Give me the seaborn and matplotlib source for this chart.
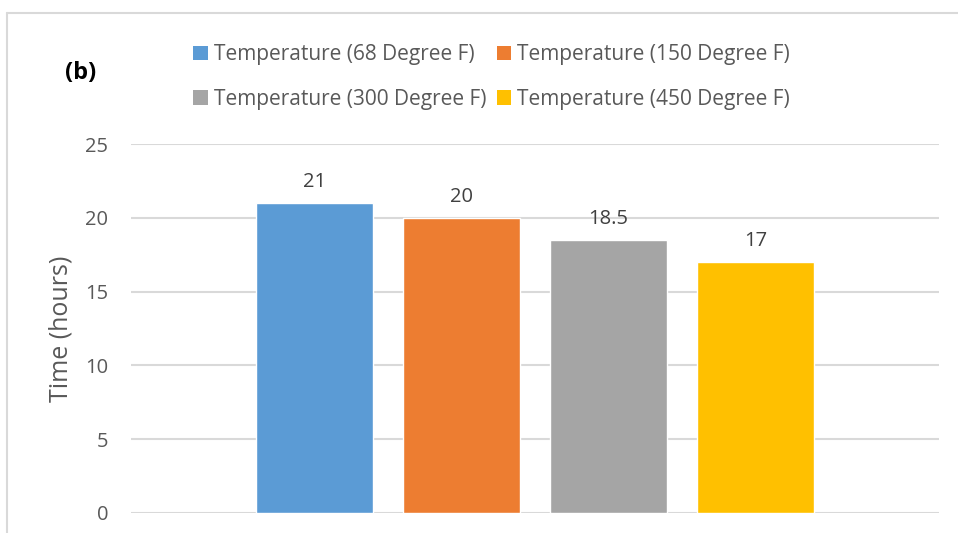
import matplotlib
matplotlib.use("Agg")
import matplotlib.pyplot as plt
from matplotlib.lines import Line2D
from matplotlib.patches import Patch
import seaborn as sns
import pandas as pd

series = ["Temperature (68 Degree F)", "Temperature (150 Degree F)",
          "Temperature (300 Degree F)", "Temperature (450 Degree F)"]
hours = [21, 20, 18.5, 17]
colors = ["#5B9BD5", "#ED7D31", "#A5A5A5", "#FFC000"]
yticks = [0, 5, 10, 15, 20, 25]

df = pd.DataFrame({"group": [""] * len(series), "series": series, "hours": hours})

sns.set_style("white")
plt.rcParams["font.family"] = ["Open Sans", "DejaVu Sans"]

fig = plt.figure(figsize=(9.58, 5.33), dpi=100)
ax = fig.add_axes([131 / 958, 20 / 533, 808 / 958, 369 / 533])

sns.barplot(data=df, x="group", y="hours", hue="series", hue_order=series,
            palette=colors, width=0.728, gap=0.21, saturation=1,
            legend=False, ax=ax)

ax.set_xlim(-0.5, 0.5)
ax.set_ylim(0, 25)
ax.set_yticks(yticks)
ax.set_yticklabels([str(t) for t in yticks])
ax.yaxis.grid(True, color="#d9d9d9", linewidth=1.5)
ax.set_axisbelow(True)
for s in ax.spines.values():
    s.set_visible(False)
ax.tick_params(axis="y", length=0, pad=16.5, labelsize=14.5, labelcolor="#595959")
ax.tick_params(axis="x", length=0, labelbottom=False)
ax.set_xlabel("")
ax.set_ylabel("Time (hours)", fontsize=18, color="#595959")
ax.yaxis.set_label_coords(-57 / 808, 0.5)

for cont in ax.containers:
    labels = [f"{v:g}" for v in cont.datavalues]
    ax.bar_label(cont, labels=labels, padding=8, fontsize=14.5, color="#404040")

# chart frame
fig.add_artist(Line2D([7 / 958, 7 / 958], [0, 1 - 13 / 533],
                      transform=fig.transFigure, color="#d9d9d9", linewidth=1.5))
fig.add_artist(Line2D([7 / 958, 1], [1 - 13 / 533, 1 - 13 / 533],
                      transform=fig.transFigure, color="#d9d9d9", linewidth=1.5))

fig.text(65 / 958, 1 - 73 / 533, "(b)", fontsize=17, fontweight="bold",
         ha="left", va="center", color="black")

# legend fills column-wise, so interleave to get rows of two
order = [0, 2, 1, 3]
handles = [Patch(facecolor=colors[i], edgecolor="none") for i in order]
labels = [series[i] for i in order]
fig.legend(handles, labels, loc="upper left",
           bbox_to_anchor=(185 / 958, 1 - 36 / 533), ncol=2, frameon=False,
           fontsize=15, labelcolor="#595959", handlelength=0.68,
           handleheight=0.68, handletextpad=0.3, columnspacing=0.5,
           labelspacing=1.12, borderaxespad=0)

fig.savefig("out.png", dpi=100)
